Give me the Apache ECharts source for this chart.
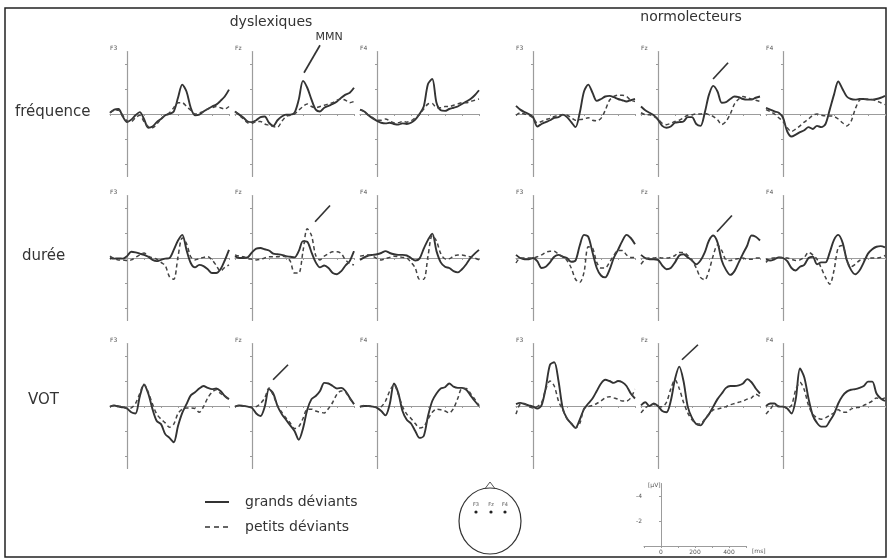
<!DOCTYPE html>
<html>
<head>
<meta charset="utf-8">
<script src="https://cdn.jsdelivr.net/npm/echarts@6/dist/echarts.min.js"></script>
<style>
  html, body { margin: 0; padding: 0; background: #fff; }
  #chart { width: 887px; height: 558px; }
</style>
</head>
<body>
<div id="chart"></div>
<script>
// time (ms) of every sample, shared by all panels
const times = [-100, -75, -50, -25, 0, 25, 50, 75, 100, 125, 150, 175, 200, 225, 250,
  275, 300, 325, 350, 375, 400, 425, 450, 475, 500, 525, 550, 575, 600];

// amplitudes in µV (negative is drawn upwards). G = grands déviants, P = petits déviants
// fréquence - dyslexiques
const freqDysF3G = [-0.1, -0.35, -0.4, 0.2, 0.65, 0.45, 0.1, -0.15, 0.4, 1.1, 1.0, 0.65, 0.4, 0.1, 0, -0.2, -1.3, -2.35, -1.8, -0.5, 0.1, 0.05, -0.2, -0.4, -0.6, -0.75, -1.05, -1.4, -1.95];
const freqDysF3P = [-0.1, -0.3, -0.3, 0.1, 0.55, 0.6, 0.3, 0.1, 0.6, 1.0, 1.1, 0.8, 0.4, 0.1, -0.1, -0.5, -0.9, -0.9, -0.6, -0.3, 0.0, -0.1, -0.2, -0.4, -0.5, -0.6, -0.5, -0.4, -0.6];
const freqDysFzG = [-0.2, 0.05, 0.3, 0.6, 0.65, 0.5, 0.25, 0.2, 0.7, 0.95, 0.5, 0.2, 0.05, 0.05, -0.1, -1.15, -2.65, -2.1, -1.15, -0.35, -0.2, -0.5, -0.65, -0.8, -1.0, -1.3, -1.55, -1.7, -2.1];
const freqDysFzP = [-0.2, 0.1, 0.4, 0.7, 0.75, 0.6, 0.6, 0.8, 0.9, 1.0, 1.05, 0.6, 0.2, 0.1, 0.0, -0.3, -0.6, -0.8, -0.6, -0.5, -0.6, -0.7, -0.8, -0.9, -1.1, -1.2, -1.1, -0.9, -1.0];
const freqDysF4G = [-0.35, -0.2, 0.1, 0.35, 0.55, 0.7, 0.75, 0.7, 0.8, 0.85, 0.75, 0.8, 0.7, 0.45, 0.0, -0.6, -2.4, -2.8, -0.9, -0.3, -0.25, -0.4, -0.5, -0.6, -0.8, -1.0, -1.2, -1.5, -1.9];
const freqDysF4P = [-0.35, -0.2, 0.1, 0.3, 0.5, 0.5, 0.4, 0.55, 0.7, 0.7, 0.6, 0.65, 0.55, 0.3, 0.05, -0.4, -0.8, -0.85, -0.5, -0.5, -0.6, -0.6, -0.7, -0.8, -0.9, -0.9, -1.0, -1.1, -1.2];
// fréquence - normolecteurs
const freqNormF3G = [-0.65, -0.35, -0.15, 0, 0.25, 1.0, 0.8, 0.65, 0.5, 0.3, 0.25, 0.05, 0.25, 0.65, 1.05, -0.1, -1.8, -2.35, -1.7, -1.05, -1.2, -1.4, -1.45, -1.35, -1.2, -1.1, -1.0, -1.1, -1.2];
const freqNormF3P = [0.1, -0.1, 0.0, 0.1, 0.3, 0.7, 0.6, 0.45, 0.35, 0.2, 0.1, 0.05, 0.1, 0.3, 0.5, 0.45, 0.4, 0.3, 0.5, 0.55, 0.35, -0.3, -1.1, -1.4, -1.5, -1.5, -1.4, -1.1, -1.0];
const freqNormFzG = [-0.6, -0.3, -0.1, 0.1, 0.45, 0.95, 1.1, 1.0, 0.7, 0.65, 0.6, 0.25, 0.25, 0.8, 0.95, -0.1, -1.55, -2.25, -1.8, -0.9, -0.95, -1.2, -1.4, -1.35, -1.2, -1.15, -1.15, -1.3, -1.4];
const freqNormFzP = [-0.1, 0.05, 0.05, 0.2, 0.4, 0.75, 0.85, 0.75, 0.6, 0.5, 0.3, 0.1, 0.05, 0.0, 0.0, -0.05, 0.05, 0.2, 0.45, 0.85, 0.6, 0.0, -0.8, -1.2, -1.4, -1.3, -1.2, -1.1, -1.0];
const freqNormF4G = [-0.5, -0.35, -0.2, -0.1, 0.3, 1.4, 1.8, 1.65, 1.45, 1.3, 1.05, 1.2, 0.95, 1.05, 0.8, -0.35, -1.55, -2.6, -2.0, -1.4, -1.2, -1.15, -1.2, -1.2, -1.15, -1.15, -1.2, -1.3, -1.45];
const freqNormF4P = [-0.35, -0.2, 0.0, 0.3, 0.6, 1.1, 1.4, 1.2, 0.95, 0.65, 0.4, 0.1, 0.0, 0.1, 0.15, 0.15, 0.2, 0.4, 0.7, 0.95, 0.6, -0.4, -1.1, -1.2, -1.2, -1.15, -1.05, -0.9, -0.75];
// durée - dyslexiques
const durDysF3G = [0, 0.05, 0.03, 0.05, -0.15, -0.5, -0.45, -0.35, -0.25, -0.1, 0.15, 0.25, 0.15, 0.05, 0, -0.65, -1.4, -1.85, -0.65, 0.4, 0.75, 0.55, 0.65, 0.9, 1.2, 1.2, 0.9, 0.2, -0.65];
const durDysF3P = [-0.15, 0.05, 0.15, 0.15, 0.2, 0.15, -0.05, -0.25, -0.4, -0.15, 0, 0.1, 0.35, 0.6, 1.5, 1.7, -0.1, -1.6, -1.15, -0.1, 0.15, 0.05, -0.05, -0.1, 0.15, 0.6, 1.05, 0.75, 0.55];
const durDysFzG = [-0.15, 0, 0, -0.05, -0.45, -0.75, -0.8, -0.7, -0.6, -0.35, -0.3, -0.25, -0.15, -0.1, -0.05, -0.55, -1.35, -1.3, -0.45, 0.35, 0.75, 0.6, 0.8, 1.2, 1.3, 1.05, 0.6, 0.25, -0.55];
const durDysFzP = [-0.25, -0.15, -0.1, 0.05, 0.1, 0.15, 0.1, 0, -0.1, -0.1, -0.1, -0.15, -0.1, 0.25, 1.2, 1.2, -0.55, -2.35, -1.8, -0.2, 0.15, -0.15, -0.35, -0.5, -0.5, -0.35, 0.15, 0.45, 0.55];
const durDysF4G = [0.15, -0.05, -0.2, -0.25, -0.3, -0.4, -0.55, -0.4, -0.3, -0.25, -0.25, -0.2, 0, 0.2, 0.05, -0.75, -1.45, -1.95, -0.55, 0.35, 0.7, 0.8, 1.05, 1.15, 0.9, 0.5, 0, -0.35, -0.65];
const durDysF4P = [-0.15, -0.2, -0.25, -0.15, 0.05, 0.15, 0.05, -0.05, -0.15, -0.1, -0.05, 0, 0.35, 0.8, 1.7, 1.7, -0.15, -1.8, -1.35, -0.35, 0.05, 0.05, -0.15, -0.25, -0.25, -0.15, -0.1, 0, 0.15];
// durée - normolecteurs
const durNormF3G = [-0.25, 0, 0.1, 0.1, 0, 0.25, 0.8, 0.7, 0.35, -0.1, -0.25, -0.1, 0, 0.3, 0.2, -1.0, -1.85, -1.7, -0.45, 0.8, 1.4, 1.55, 0.95, 0, -0.65, -1.35, -1.85, -1.6, -1.1];
const durNormF3P = [0.4, 0, 0, 0, 0, -0.1, -0.25, -0.45, -0.55, -0.55, -0.3, -0.1, 0.2, 0.8, 1.7, 1.95, 1.15, -0.9, -0.8, 0.35, 0.8, 0.8, 0.35, -0.2, -0.6, -0.6, -0.25, -0.05, -0.05];
const durNormFzG = [-0.25, 0, 0.1, 0.1, 0.15, 0.6, 0.9, 0.8, 0.35, -0.2, -0.3, -0.05, 0.2, 0.5, 0.2, -0.45, -1.4, -1.8, -1.25, 0.2, 0.95, 1.35, 1.05, 0.35, -0.35, -1.0, -1.8, -1.7, -1.4];
const durNormFzP = [0.5, 0.1, 0, 0, -0.05, 0, 0, -0.05, -0.2, -0.45, -0.45, -0.2, 0.2, 0.8, 1.55, 1.75, 1.0, -0.2, -1.05, -0.6, 0.15, 0.2, 0.1, 0.05, 0, 0.1, 0.1, 0, 0];
const durNormF4G = [0.1, 0.2, 0.1, -0.05, 0, 0.25, 0.8, 1.0, 0.7, 0.55, 0, -0.1, 0.5, 0.35, 0.35, -0.45, -1.45, -1.85, -1.25, 0.15, 0.95, 1.3, 1.0, 0.35, -0.35, -0.7, -0.9, -0.95, -0.85];
const durNormF4P = [0.35, 0.05, 0, -0.05, -0.05, 0, 0.1, 0.2, 0.15, -0.05, -0.45, -0.25, 0.1, 0.8, 1.55, 2.1, 1.0, -0.85, -1.0, 0.2, 0.7, 0.5, 0.2, 0.1, 0, 0, 0, -0.05, -0.2];
// VOT - dyslexiques
const votDysF3G = [0.05, -0.05, 0.05, 0.1, 0.2, 0.5, 0.6, -0.75, -1.7, -1.0, 0.25, 1.2, 1.45, 2.25, 2.55, 2.9, 1.6, 0.55, -0.15, -0.85, -1.1, -1.4, -1.6, -1.45, -1.35, -1.4, -1.2, -0.8, -0.55];
const votDysF3P = [0.05, -0.05, 0, 0.05, 0.2, 0.15, -0.2, -1.0, -1.75, -1.1, -0.15, 0.65, 1.05, 1.35, 1.7, 1.45, 0.6, 0.25, 0.15, 0.15, 0.2, 0.5, 0.05, -0.65, -1.1, -1.3, -1.0, -0.8, -0.5];
const votDysFzG = [0.05, -0.05, 0, 0.05, 0.15, 0.6, 0.8, 0.05, -1.35, -1.0, 0, 0.65, 1.1, 1.55, 2.0, 2.7, 1.8, 0.3, -0.55, -0.8, -1.2, -1.85, -1.8, -1.6, -1.4, -1.45, -1.2, -0.65, -0.15];
const votDysFzP = [0.05, -0.05, 0, 0.05, 0.1, 0.05, -0.2, -0.65, -1.45, -0.85, -0.05, 0.5, 0.95, 1.35, 1.8, 1.65, 1.0, 0.25, 0.25, 0.4, 0.5, 0.55, 0.2, -0.3, -0.95, -1.2, -1.1, -0.6, -0.15];
const votDysF4G = [0.05, 0, 0, 0.05, 0.15, 0.4, 0.75, -0.15, -1.8, -1.05, 0.4, 1.1, 1.4, 2.0, 2.55, 2.4, 0.8, -0.4, -1.0, -1.4, -1.5, -1.8, -1.55, -1.45, -1.45, -1.3, -0.85, -0.4, 0];
const votDysF4P = [0.05, -0.05, 0, 0.05, 0.1, 0.05, -0.4, -1.2, -1.7, -0.95, 0.05, 0.65, 1.0, 1.4, 1.75, 1.65, 1.05, 0.5, 0.25, 0.3, 0.4, 0.55, 0.2, -0.6, -1.4, -1.4, -1.0, -0.55, -0.05];
// VOT - normolecteurs
const votNormF3G = [-0.15, -0.25, -0.15, -0.05, 0.05, 0.2, -0.05, -1.45, -3.3, -3.5, -2.0, 0.2, 1.0, 1.4, 1.75, 1.1, 0.25, -0.2, -0.6, -1.2, -1.8, -2.1, -2.0, -1.85, -2.0, -1.9, -1.6, -1.0, -0.6];
const votNormF3P = [0.65, -0.15, -0.2, 0.05, 0.15, 0.05, -0.25, -1.35, -2.0, -1.6, -0.4, 0.3, 1.0, 1.4, 1.75, 1.4, 0.2, 0.05, -0.05, -0.2, -0.4, -0.65, -0.75, -0.65, -0.55, -0.4, -0.4, -0.65, -1.35];
const votNormFzG = [-0.05, -0.3, 0, -0.2, 0, 0.4, 0.5, -0.4, -2.15, -3.15, -2.0, 0.05, 0.95, 1.45, 1.55, 1.1, 0.65, 0.05, -0.55, -1.0, -1.45, -1.6, -1.6, -1.65, -1.8, -2.15, -1.9, -1.4, -1.0];
const votNormFzP = [0.55, 0.15, -0.05, -0.15, 0.05, 0.05, -0.3, -1.35, -2.1, -1.4, -0.3, 0.55, 1.1, 1.4, 1.45, 1.05, 0.65, 0.3, 0.25, 0.15, 0.05, -0.1, -0.2, -0.3, -0.4, -0.55, -0.65, -0.95, -0.75];
const votNormF4G = [0, -0.2, -0.2, 0.05, 0.05, 0.2, 0.6, -0.55, -3.0, -2.3, -0.6, 0.75, 1.35, 1.65, 1.65, 1.2, 0.65, -0.2, -0.8, -1.15, -1.3, -1.35, -1.45, -1.6, -1.95, -1.95, -1.0, -0.6, -0.4];
const votNormF4P = [0.65, 0.25, -0.1, 0, 0.05, 0.15, -0.05, -1.3, -1.9, -1.3, -0.05, 0.65, 0.95, 1.05, 0.95, 0.75, 0.55, 0.3, 0.5, 0.5, 0.25, 0.15, 0.1, -0.05, -0.2, -0.4, -0.65, -0.55, -0.65];

const rowLabels = ['fréquence', 'durée', 'VOT'];
const groupLabels = ['dyslexiques', 'normolecteurs'];
const electrodes = ['F3', 'Fz', 'F4'];
const legendLabels = ['grands déviants', 'petits déviants'];

// rows x (3 dyslexiques + 3 normolecteurs) panels
const panelData = [
  [[freqDysF3G, freqDysF3P], [freqDysFzG, freqDysFzP], [freqDysF4G, freqDysF4P],
   [freqNormF3G, freqNormF3P], [freqNormFzG, freqNormFzP], [freqNormF4G, freqNormF4P]],
  [[durDysF3G, durDysF3P], [durDysFzG, durDysFzP], [durDysF4G, durDysF4P],
   [durNormF3G, durNormF3P], [durNormFzG, durNormFzP], [durNormF4G, durNormF4P]],
  [[votDysF3G, votDysF3P], [votDysFzG, votDysFzP], [votDysF4G, votDysF4P],
   [votNormF3G, votNormF3P], [votNormFzG, votNormFzP], [votNormF4G, votNormF4P]]
];

// arrows on the Fz panels: [panel col, from (ms, µV), to (ms, µV)]
const arrowCols = [1, 4];
const arrowFrom = [[[400, -5.5], [412, -4.1]], [[459, -4.2], [435, -3.4]], [[212, -3.3], [235, -4.9]]];
const arrowTo = [[[306, -3.3], [324, -2.8]], [[371, -2.9], [347, -2.1]], [[124, -2.1], [141, -3.7]]];

// layout
const FONT = 'DejaVu Sans';
const INK = '#333';
const AXIS = '#9c9c9c';
const colZeroX = [127, 252, 377, 533, 658, 783];
const rowZeroY = [114, 258, 406];
const PX_MS = 0.17;
const PX_UV = 12.5;

const chart = echarts.init(document.getElementById('chart'));

const grids = [], xAxes = [], yAxes = [], series = [];
panelData.forEach((row, r) => {
  row.forEach((pair, c) => {
    const i = grids.length;
    grids.push({
      left: colZeroX[c] - 100 * PX_MS,
      top: rowZeroY[r] - 5 * PX_UV,
      width: 700 * PX_MS,
      height: 10 * PX_UV
    });
    xAxes.push({
      gridIndex: i, type: 'value', min: -100, max: 600, interval: 100,
      axisLine: { onZero: true, lineStyle: { color: AXIS, width: 1.2 } },
      axisTick: { show: true, length: 2, lineStyle: { color: AXIS } },
      axisLabel: { show: false }, splitLine: { show: false }
    });
    yAxes.push({
      gridIndex: i, type: 'value', min: -5, max: 5, inverse: true,
      axisLine: { show: true, onZero: true, lineStyle: { color: AXIS, width: 1.2 } },
      axisTick: { show: true, length: 2, customValues: [-4, -2, 2, 4], lineStyle: { color: AXIS } },
      axisLabel: { show: false }, splitLine: { show: false }
    });
    series.push({
      type: 'line', xAxisIndex: i, yAxisIndex: i, silent: true,
      data: times.map((t, k) => [t, pair[0][k]]),
      showSymbol: false, smooth: 0.3,
      lineStyle: { color: INK, width: 1.9 }
    });
    series.push({
      type: 'line', xAxisIndex: i, yAxisIndex: i, silent: true,
      data: times.map((t, k) => [t, pair[1][k]]),
      showSymbol: false, smooth: 0.3,
      lineStyle: { color: '#444', width: 1.5, type: [4, 3] }
    });
  });
});

// µV / ms scale bar
const sb = grids.length;
grids.push({ left: 661 - 100 * PX_MS, top: 546 - 5 * PX_UV, width: 600 * PX_MS, height: 5 * PX_UV });
xAxes.push({
  gridIndex: sb, type: 'value', min: -100, max: 500, interval: 100,
  axisLine: { onZero: true, lineStyle: { color: AXIS, width: 1 } },
  axisTick: { show: true, length: 2, lineStyle: { color: AXIS } },
  axisLabel: { customValues: [0, 200, 400], fontSize: 6, margin: 3, color: '#555', fontFamily: FONT },
  splitLine: { show: false }
});
yAxes.push({
  gridIndex: sb, type: 'value', min: -5, max: 0, inverse: true,
  axisLine: { show: true, onZero: true, lineStyle: { color: AXIS, width: 1 } },
  axisTick: { show: true, length: 2, customValues: [-4, -2], lineStyle: { color: AXIS } },
  axisLabel: { customValues: [-4, -2], fontSize: 6, margin: 2, color: '#555', fontFamily: FONT },
  splitLine: { show: false }
});

chart.setOption({
  animation: false,
  backgroundColor: '#fff',
  grid: grids, xAxis: xAxes, yAxis: yAxes, series: series
});

const txt = (x, y, text, size, extra) => ({
  type: 'text', x: x, y: y, silent: true,
  style: Object.assign({ text: text, font: size + 'px "' + FONT + '"', fill: INK, textVerticalAlign: 'middle' }, extra || {})
});

const graphic = [];
// frame
graphic.push({ type: 'rect', shape: { x: 5, y: 8, width: 881, height: 549 }, style: { fill: 'none', stroke: '#222', lineWidth: 1.5 }, silent: true });
// group titles
graphic.push(txt(271, 22, groupLabels[0], 14, { textAlign: 'center' }));
graphic.push(txt(691, 17, groupLabels[1], 14, { textAlign: 'center' }));
// row titles
[[15, 112], [22, 256], [28, 400]].forEach((p, r) => graphic.push(txt(p[0], p[1], rowLabels[r], 15)));
// electrode names above each panel
rowZeroY.forEach((zy) => colZeroX.forEach((zx, c) => {
  graphic.push(txt(zx - 17, zy - 66, electrodes[c % 3], 6, { fill: '#555' }));
}));
// arrows
arrowFrom.forEach((pairs, r) => pairs.forEach((from, g) => {
  const idx = r * 6 + arrowCols[g];
  const a = chart.convertToPixel({ gridIndex: idx }, from);
  const b = chart.convertToPixel({ gridIndex: idx }, arrowTo[r][g]);
  graphic.push({ type: 'line', shape: { x1: a[0], y1: a[1], x2: b[0], y2: b[1] }, style: { stroke: INK, lineWidth: 1.7 }, silent: true });
  if (r === 0 && g === 0) graphic.push(txt(a[0] + 9, a[1] - 8, 'MMN', 11, { textAlign: 'center' }));
}));
// legend
graphic.push({ type: 'line', shape: { x1: 205, y1: 502, x2: 229, y2: 502 }, style: { stroke: INK, lineWidth: 2 }, silent: true });
graphic.push({ type: 'line', shape: { x1: 205, y1: 527, x2: 229, y2: 527 }, style: { stroke: INK, lineWidth: 1.6, lineDash: [5, 4] }, silent: true });
graphic.push(txt(245, 502, legendLabels[0], 14));
graphic.push(txt(245, 527, legendLabels[1], 14));
// head with electrode positions
graphic.push({ type: 'polyline', shape: { points: [[484, 490], [490, 482], [496, 490]] }, style: { stroke: '#555', fill: 'none', lineWidth: 1 }, silent: true });
graphic.push({ type: 'ellipse', shape: { cx: 490, cy: 521, rx: 31, ry: 33 }, style: { stroke: INK, fill: '#fff', lineWidth: 1.2 }, silent: true });
[476, 491, 505].forEach((x, k) => {
  graphic.push(txt(x, 505, electrodes[k], 5, { textAlign: 'center', fill: '#555' }));
  graphic.push({ type: 'circle', shape: { cx: x, cy: 512, r: 1.6 }, style: { fill: '#222' }, silent: true });
});
// scale bar units
graphic.push(txt(648, 485, '[µV]', 6, { fill: '#555' }));
graphic.push(txt(752, 551, '[ms]', 6, { fill: '#555' }));

chart.setOption({ graphic: graphic });
</script>
</body>
</html>
